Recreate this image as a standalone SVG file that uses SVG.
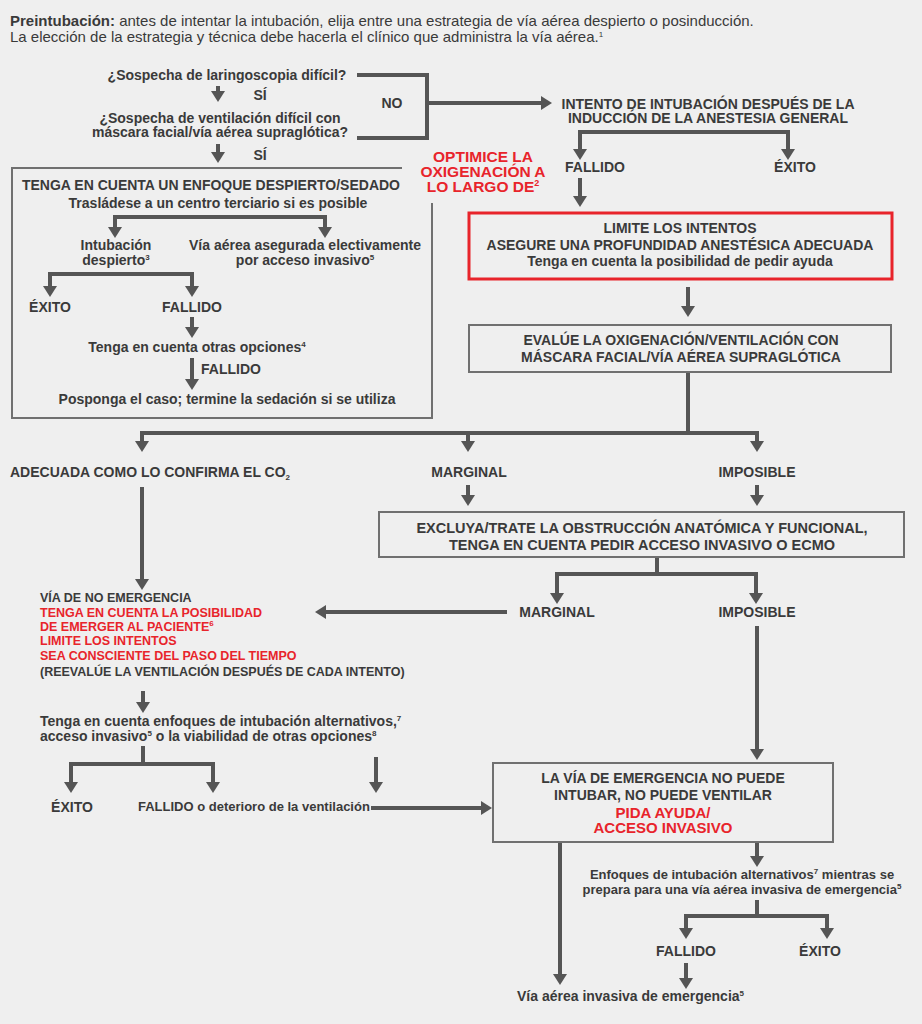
<svg xmlns="http://www.w3.org/2000/svg" width="922" height="1024" viewBox="0 0 922 1024">
<defs>
<style>
text{font-family:"Liberation Sans",Arial,sans-serif;fill:#3a3a3a;font-weight:bold;font-size:14px}
.c{text-anchor:middle}
.r{fill:#e8242b}
.n{font-weight:normal}
.hd{font-size:15px}
.s16{font-size:15.5px}
.s15{font-size:15px}
.s145{font-size:14.5px}
.s13{font-size:13px}
.s12{font-size:12.5px}
.conn path{fill:none;stroke:#555;stroke-width:4}
.conn path.a{marker-end:url(#ah)}
.conn path.aa{marker-start:url(#ah);marker-end:url(#ah)}
.box{fill:none;stroke:#707070;stroke-width:2}
.rbox{fill:none;stroke:#e8242b;stroke-width:3}
</style>
<marker id="ah" markerUnits="userSpaceOnUse" viewBox="0 0 11 14" markerWidth="11" markerHeight="14" refX="7" refY="7" orient="auto-start-reverse"><path d="M0,0 L11,7 L0,14 Z" fill="#555"/></marker>
</defs>
<rect width="922" height="1024" fill="#efefef"/>

<g id="header">
<text x="10" y="26" class="n hd"><tspan font-weight="bold">Preintubación:</tspan> antes de intentar la intubación, elija entre una estrategia de vía aérea despierto o posinducción.</text>
<text x="10" y="42" class="n hd">La elección de la estrategia y técnica debe hacerla el clínico que administra la vía aérea.<tspan font-size="8" dy="-5">1</tspan></text>
</g>

<g class="conn" id="connectors">
<path d="M357,75 H427 V138 H357"/>
<path class="a" d="M427,103 H548"/>
<path class="a" d="M218,86 V98"/>
<path class="a" d="M218,144 V159"/>
<path class="aa" d="M115,234 V217 H325 V234"/>
<path class="aa" d="M50,293 V274 H192 V293"/>
<path class="a" d="M192,317 V334"/>
<path class="a" d="M192,358 V386"/>
<path class="aa" d="M580,156 V132 H788 V156"/>
<path class="a" d="M580,178 V203"/>
<path class="a" d="M688,287 V313"/>
<path d="M688,372 V433"/>
<path class="aa" d="M142,448 V433 H757 V448"/>
<path class="a" d="M468,433 V448"/>
<path class="a" d="M468,485 V502"/>
<path class="a" d="M757,485 V502"/>
<path class="a" d="M142,487 V586"/>
<path d="M657,557 V574"/>
<path class="aa" d="M557,600 V574 H756 V600"/>
<path class="a" d="M507,612 H319"/>
<path class="a" d="M757,626 V756"/>
<path class="a" d="M143,691 V709"/>
<path d="M143,746 V764"/>
<path class="aa" d="M71,789 V764 H213 V789"/>
<path class="a" d="M376,757 V789"/>
<path class="a" d="M371,808 H488"/>
<path class="a" d="M560,842 V981"/>
<path class="a" d="M757,842 V863"/>
<path d="M757,900 V916"/>
<path class="aa" d="M686,935 V916 H827 V935"/>
<path class="a" d="M686,963 V985"/>
</g>

<g id="q1"><text x="227" y="80" class="c">¿Sospecha de laringoscopia difícil?</text></g>
<g id="si1"><text x="260" y="100" class="c">SÍ</text></g>
<g id="q2"><text x="220" y="123" class="c">¿Sospecha de ventilación difícil con</text><text x="220" y="137" class="c">máscara facial/vía aérea supraglótica?</text></g>
<g id="si2"><text x="260" y="160" class="c">SÍ</text></g>
<g id="no"><text x="392" y="108" class="c">NO</text></g>

<g id="optimice">
<text x="483" y="162" class="c r s16">OPTIMICE LA</text>
<text x="483" y="177" class="c r s16">OXIGENACIÓN A</text>
<text x="483" y="192" class="c r s16">LO LARGO DE<tspan font-size="9" dy="-6">2</tspan></text>
</g>

<g id="awake">
<path class="box" d="M402,168 H12 V418 H432 V203"/>
<text x="211" y="190" class="c">TENGA EN CUENTA UN ENFOQUE DESPIERTO/SEDADO</text>
<text x="218" y="208" class="c">Trasládese a un centro terciario si es posible</text>
</g>
<g id="awake-intub"><text x="116" y="250" class="c">Intubación</text><text x="116" y="265" class="c">despierto<tspan font-size="8" dy="-5">3</tspan></text></g>
<g id="awake-invasive"><text x="305" y="250" class="c">Vía aérea asegurada electivamente</text><text x="305" y="265" class="c">por acceso invasivo<tspan font-size="8" dy="-5">5</tspan></text></g>
<g id="awake-exito"><text x="50" y="312" class="c">ÉXITO</text></g>
<g id="awake-fallido"><text x="192" y="312" class="c">FALLIDO</text></g>
<g id="awake-otras"><text x="197" y="352" class="c">Tenga en cuenta otras opciones<tspan font-size="8" dy="-5">4</tspan></text></g>
<g id="awake-fallido2"><text x="201" y="374">FALLIDO</text></g>
<g id="awake-posponga"><text x="227" y="404" class="c">Posponga el caso; termine la sedación si se utiliza</text></g>

<g id="intento"><text x="708" y="109" class="c">INTENTO DE INTUBACIÓN DESPUÉS DE LA</text><text x="708" y="123" class="c">INDUCCIÓN DE LA ANESTESIA GENERAL</text></g>
<g id="r-fallido"><text x="595" y="172" class="c">FALLIDO</text></g>
<g id="r-exito"><text x="795" y="172" class="c">ÉXITO</text></g>

<g id="limite">
<rect class="rbox" x="469" y="213" width="423" height="66"/>
<text x="680" y="233" class="c">LIMITE LOS INTENTOS</text>
<text x="680" y="250" class="c">ASEGURE UNA PROFUNDIDAD ANESTÉSICA ADECUADA</text>
<text x="680" y="266" class="c">Tenga en cuenta la posibilidad de pedir ayuda</text>
</g>

<g id="evalue">
<rect class="box" x="469" y="325" width="422" height="47"/>
<text x="681" y="345" class="c">EVALÚE LA OXIGENACIÓN/VENTILACIÓN CON</text>
<text x="681" y="362" class="c">MÁSCARA FACIAL/VÍA AÉREA SUPRAGLÓTICA</text>
</g>

<g id="adecuada"><text x="10" y="477">ADECUADA COMO LO CONFIRMA EL CO<tspan font-size="8" dy="3">2</tspan></text></g>
<g id="marginal1"><text x="469" y="477" class="c">MARGINAL</text></g>
<g id="imposible1"><text x="757" y="477" class="c">IMPOSIBLE</text></g>

<g id="excluya">
<rect class="box" x="379" y="512" width="525" height="45"/>
<text x="642" y="533" class="c s145">EXCLUYA/TRATE LA OBSTRUCCIÓN ANATÓMICA Y FUNCIONAL,</text>
<text x="642" y="550" class="c s145">TENGA EN CUENTA PEDIR ACCESO INVASIVO O ECMO</text>
</g>

<g id="marginal2"><text x="557" y="617" class="c">MARGINAL</text></g>
<g id="imposible2"><text x="757" y="617" class="c">IMPOSIBLE</text></g>

<g id="noemergencia">
<text x="40" y="602" class="s12">VÍA DE NO EMERGENCIA</text>
<text x="40" y="617" class="s12 r">TENGA EN CUENTA LA POSIBILIDAD</text>
<text x="40" y="631" class="s12 r">DE EMERGER AL PACIENTE<tspan font-size="8" dy="-5">6</tspan></text>
<text x="40" y="645" class="s12 r">LIMITE LOS INTENTOS</text>
<text x="40" y="660" class="s12 r">SEA CONSCIENTE DEL PASO DEL TIEMPO</text>
<text x="40" y="676" class="s12">(REEVALÚE LA VENTILACIÓN DESPUÉS DE CADA INTENTO)</text>
</g>

<g id="alternativos"><text x="40" y="726">Tenga en cuenta enfoques de intubación alternativos,<tspan font-size="8" dy="-5">7</tspan></text><text x="40" y="741">acceso invasivo<tspan font-size="8" dy="-5">5</tspan><tspan dy="5"> o la viabilidad de otras opciones</tspan><tspan font-size="8" dy="-5">8</tspan></text></g>
<g id="l-exito"><text x="72" y="812" class="c">ÉXITO</text></g>
<g id="l-fallido"><text x="138" y="811" class="s13">FALLIDO o deterioro de la ventilación</text></g>

<g id="emergencia">
<rect class="box" x="493" y="763" width="340" height="79"/>
<text x="663" y="783" class="c">LA VÍA DE EMERGENCIA NO PUEDE</text>
<text x="663" y="800" class="c">INTUBAR, NO PUEDE VENTILAR</text>
<text x="663" y="818" class="c r s15">PIDA AYUDA/</text>
<text x="663" y="833" class="c r s15">ACCESO INVASIVO</text>
</g>

<g id="enfoques"><text x="742" y="879" class="c s13">Enfoques de intubación alternativos<tspan font-size="8" dy="-5">7</tspan><tspan dy="5"> mientras se</tspan></text><text x="742" y="894" class="c s13">prepara para una vía aérea invasiva de emergencia<tspan font-size="8" dy="-5">5</tspan></text></g>
<g id="b-fallido"><text x="686" y="956" class="c">FALLIDO</text></g>
<g id="b-exito"><text x="820" y="956" class="c">ÉXITO</text></g>
<g id="invasiva"><text x="517" y="1001">Vía aérea invasiva de emergencia<tspan font-size="8" dy="-5">5</tspan></text></g>
</svg>
